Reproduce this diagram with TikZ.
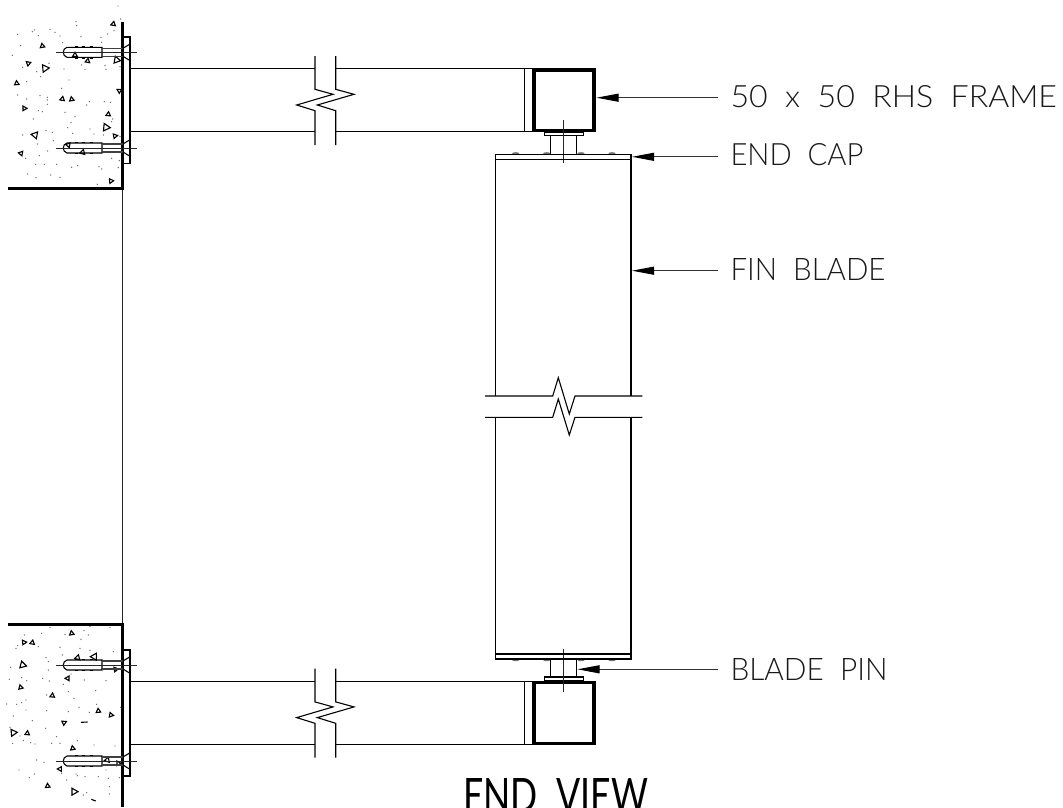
\documentclass[tikz,border=0pt]{standalone}
\usepackage{fontspec}
\usepackage{graphicx}
\setmainfont{Lato Light}
\newfontfamily\titlefont{Lato}
\usetikzlibrary{arrows.meta}
\tikzset{
  part/.style={line width=1.1pt,black},
  heavy/.style={line width=3pt,black,line cap=butt},
  heavybox/.style={line width=3.4pt,black},
  thinline/.style={line width=0.9pt,black!85},
  leader/.style={line width=1pt,draw=black!80,{Triangle[length=22pt,width=8pt,color=black,fill=black]}-},
  lab/.style={anchor=base west,inner sep=0pt,outer sep=0pt,text=black!90},
  grit/.style={fill=black!60,draw=none},
  stone/.style={line width=1.1pt,black,fill=white,line join=miter}
}
\newcommand{\labeltext}[3]{\resizebox{#1pt}{#2pt}{#3}}
% one expansion anchor, centre line at height #1
\newcommand{\anchorbolt}[1]{%
  \begin{scope}[yshift=-#1pt]
    \draw[part] (67,-5) -- (102,-5) -- (102,5) -- (67,5) .. controls (64.5,5) and (63.3,1.5) .. (63.3,0) .. controls (63.3,-1.5) and (64.5,-5) .. (67,-5) -- cycle;
    \draw[part,black!75] (102,-4) -- (123,-4) (102,4) -- (123,4);
    \draw[part] (123,-4) -- (129.5,-8) (123,4) -- (129.5,8);
    \draw[thinline] (56,0) -- (137,0);
    \foreach \t in {76,83,91}{\draw[part] (\t-1.5,-5.8) -- (\t+1.5,-5.8) (\t-1.5,5.8) -- (\t+1.5,5.8);}
  \end{scope}}
% one horizontal arm with its break, tube lines at 0 and 63
\newcommand{\arm}[1]{%
  \begin{scope}[yshift=-#1pt]
    \draw[part] (130,0) -- (315,0) (335.7,0) -- (524.5,0);
    \draw[part] (130,63) -- (315,63) (335.7,63) -- (524.5,63);
    \draw[part] (315,-12.7) -- (315,20.6) -- (333,25.6) -- (296.7,36.3) -- (315,42) -- (315,76.3);
    \draw[part] (335.7,-12.7) -- (335.7,20.6) -- (354,25.6) -- (317.3,36.3) -- (335.7,42) -- (335.7,76.3);
    \draw[part] (524.5,0) -- (524.5,63);
    \draw[heavybox] (533.8,1.2) rectangle (594,62);
    \draw[part] (532,0) -- (524.5,0) (532,63) -- (524.5,63);
  \end{scope}}
\begin{document}
\begin{tikzpicture}[x=1pt,y=-1pt]
\useasboundingbox (0,0) rectangle (1063,807);
\clip (0,0) rectangle (1063,807);
\fill[white] (0,0) rectangle (1063,807);

% concrete, upper slab (coordinates are 3x zoom of the slab)
\begin{scope}[x=0.3333pt,y=-0.3333pt]
\foreach \x/\y in {354/18,362/57,228/65,230/77,342/92,323/102,303/112,53/103,97/95,103/90,150/88,165/97,115/107,180/108,243/110,188/128,62/137,305/127,37/166,147/190,110/215,68/202,122/230,192/207,245/195,255/208,315/197,318/208,360/200,207/240,80/245,185/265,53/285,120/287,142/292,142/300,142/313,80/297,268/305,260/315,313/305,331/307,115/332,127/335,195/337,100/357,225/350,338/357,335/365,213/368,203/383,270/387,310/405,138/392,157/397,68/405,218/400,282/402,160/422,112/432,360/410,143/453,118/467,77/475,107/493,133/493,170/493,215/502,233/497,297/500,305/507,358/482,355/503,83/522,108/533,152/525,180/532,292/553,335/475}
  {\fill[grit] (\x,\y) circle (2.2);}
\foreach \x/\y/\s/\r in {340/72/8/170,127/138/8/190,85/190/8/230,135/205/13/215,50/250/8/185,350/180/12/200,263/183/8/170,225/165/8/180,358/272/8/240,187/297/8/170,215/298/8/190,73/325/8/210,325/343/8/175,318/382/13/205,105/405/12/140,345/408/8/220,63/460/8/260,205/435/8/140,248/457/9/165,333/543/8/215}
  {\draw[stone,shift={(\x,\y)},rotate=\r] (90:\s) -- (210:\s) -- (330:\s) -- cycle;}
\end{scope}

% concrete, lower slab
\begin{scope}[yshift=-610pt,x=0.3333pt,y=-0.3333pt]
\foreach \x/\y in {150/52,73/75,125/70,195/73,252/62,265/75,270/50,330/52,48/115,53/107,115/110,243/88,180/112,240/115,270/122,340/125,187/135,138/143,145/155,32/172,145/180,213/192,28/208,65/203,80/212,128/205,148/213,253/210,318/212,190/223,205/245,287/242,140/255,222/265,20/282,50/283,65/278,78/270,290/283,237/292,78/300,140/302,205/305,268/307,40/318,362/292,97/332,137/355,30/352,60/378,38/400,70/392,92/398,105/402,170/380,232/392,155/400,180/400,282/405,345/408,110/450,132/457,57/480,103/492,88/503,185/490,228/492,232/497,200/510,255/500,295/500,318/480,358/503,325/505,328/530,328/552,260/548,250/555}
  {\fill[grit] (\x,\y) circle (2.2);}
\foreach \x/\y/\s/\r in {215/70/8/190,72/97/8/215,97/98/8/170,68/165/12/195,233/143/9/165,283/140/12/150,347/178/8/220,203/205/8/150,62/232/8/195,157/257/8/175,295/303/8/185,333/315/8/200,192/338/8/235,40/368/12/215,82/370/8/175,218/415/8/190,322/450/9/160,355/460/8/210,180/477/8/150,143/528/8/185,222/545/12/210}
  {\draw[stone,shift={(\x,\y)},rotate=\r] (90:\s) -- (210:\s) -- (330:\s) -- cycle;}
\draw[part] (243,337) -- (263,336) (274,568) -- (287,573);
\end{scope}

% walls and slab edges
\draw[thinline] (122.7,188) -- (122.7,625);
\draw[heavy] (122.7,22) -- (122.7,188) -- (8,188);
\draw[heavy] (8,624.8) -- (122.7,624.8) -- (122.7,807);

% base plates
\draw[part] (123,37) rectangle (130,163.5);
\draw[part] (123,650) rectangle (130,776);

% anchors
\anchorbolt{52.3}
\anchorbolt{148}
\anchorbolt{665}
\anchorbolt{761}

% arms with RHS frames
\arm{68.7}
\arm{681.3}

% pin and plate, top
\draw[part] (544.5,132) rectangle (583.3,135.8);
\draw[part] (550.7,135.8) -- (550.7,154.3) (576.7,135.8) -- (576.7,154.3);
\draw[thinline] (563.7,120) -- (563.7,163);
% pin and plate, bottom
\draw[part] (544.5,677) rectangle (583.3,681);
\draw[part] (550.7,659) -- (550.7,677) (576.7,659) -- (576.7,677);
\draw[part] (550.7,676.5) -- (576.7,676.5);
\draw[thinline] (563.7,649) -- (563.7,692);

% cap screws
\foreach \x in {515.7,546.7,581,612}{
  \fill[black!55] (\x,153.4) ellipse (3.6 and 1.2);
  \fill[black!55] (\x,660) ellipse (3.6 and 1.2);
}

% fin blade
\draw[part] (495.7,396) -- (495.7,154.3) -- (631,154.3) -- (631,396);
\draw[part] (495.7,159.3) -- (631,159.3);
\draw[part] (495.7,417.3) -- (495.7,659) -- (631,659) -- (631,417.3);
\draw[part] (495.7,654) -- (631,654);
\draw[part] (485,396) -- (552.7,396) -- (558.3,377.7) -- (569.3,414) -- (575,396) -- (642.3,396);
\draw[part] (485,417.3) -- (552.7,417.3) -- (558.3,399) -- (569.3,435) -- (575,417.3) -- (642.3,417.3);

% labels
\node[lab] (t1) at (730.5,107) {\labeltext{326.5}{22}{50~~x~~50~~RHS~~FRAME}};
\node[lab] (t2) at (730.5,165.5) {\labeltext{133}{22}{END~~CAP}};
\node[lab] (t3) at (730.5,280) {\labeltext{155}{22}{FIN~~BLADE}};
\node[lab] (t4) at (730.5,680) {\labeltext{157}{22}{BLADE~~PIN}};
\node[lab,text=black] (t5) at (463,812) {\labeltext{185}{34}{\titlefont END~~VIEW}};

% leaders
\coordinate (a1) at (596.5,97.7);
\coordinate (a2) at (632,156.8);
\coordinate (a3) at (632,270.7);
\coordinate (a4) at (577.5,669.3);
\coordinate (e1) at (717.7,97.7);
\coordinate (e2) at (717.7,156.8);
\coordinate (e3) at (717.7,270.7);
\coordinate (e4) at (717.7,669.3);
\draw[leader] (a1) -- (e1);
\draw[leader] (a2) -- (e2);
\draw[leader] (a3) -- (e3);
\draw[leader] (a4) -- (e4);
\end{tikzpicture}
\end{document}
